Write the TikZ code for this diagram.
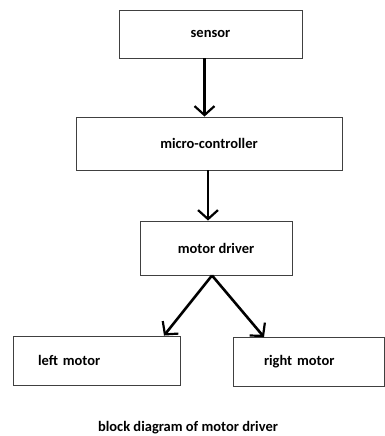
\documentclass[tikz,border=0pt]{standalone}
\usepackage{fontspec}
\setmainfont{Carlito}
\usetikzlibrary{positioning,arrows.meta}

\begin{document}
\begin{tikzpicture}[x=1pt, y=-1pt,
    every node/.style={font=\fontsize{14.5}{17}\selectfont\bfseries},
    box/.style={draw=black!75, line width=0.9pt, inner sep=0pt},
    flow/.style={line width=2.6pt, -{Straight Barb[length=9pt,width=20pt,line width=2.2pt]}}]
   % canvas
   \useasboundingbox (0,0) rectangle (385,436);
    % Blocks
    \node[box, minimum width=183, minimum height=48] (sensor) at (210.5,34) {sensor};
    \node[box, minimum width=266, minimum height=53] (micro) at (209,143.5) {micro-controller};
    \node[box, minimum width=152, minimum height=54] (driver) at (216,248) {motor driver};
    \node[box, minimum width=167, minimum height=49, text width=117, inner xsep=25pt, align=left] (left) at (96.5,360.5) {left motor};
    \node[box, minimum width=151, minimum height=49, text width=89, inner xsep=31pt, align=left] (right) at (308.5,362) {right motor};
    % Caption
    \node (caption) at (188,428) {block diagram of motor driver};

    % Connections
    \draw[flow] ([xshift=-6]sensor.south) -- ([xshift=-6]sensor.south |- micro.north);
    \draw[flow] ([xshift=-1]micro.south) -- ([xshift=-1]micro.south |- driver.north);
    \coordinate (split) at ([xshift=-4]driver.south);
    \draw[flow] (split) -- ([xshift=67.5]left.north);
    \draw[flow] (split) -- ([xshift=-44.5]right.north);
\end{tikzpicture}
\end{document}
